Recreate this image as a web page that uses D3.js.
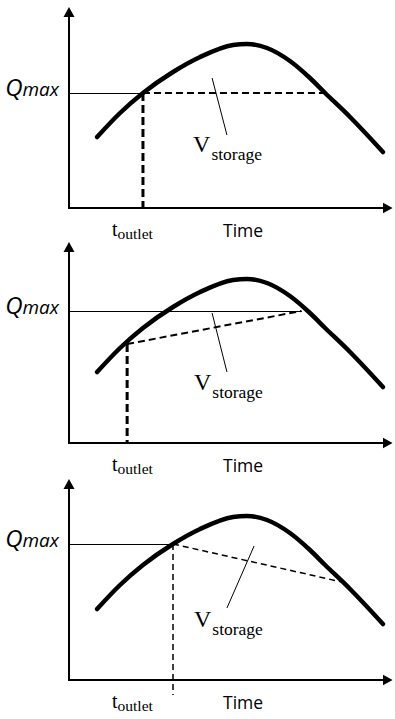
<!DOCTYPE html>
<html>
<head>
<meta charset="utf-8">
<script src="https://cdn.jsdelivr.net/npm/d3@7"></script>
<style>
  body { margin: 0; background: #fff; }
  svg { display: block; }
</style>
</head>
<body>
<svg id="chart" width="395" height="719"></svg>
<script>
// hydrograph, time and discharge in arbitrary units (0..100)
const hydroTime = [8.7, 15.8, 22.9, 32.2, 40.6, 50.8, 55.1, 61.3, 68.4, 74.6, 79.3, 87, 97.2];
const hydroQ    = [35.5, 47.5, 57.5, 68, 75.5, 81.5, 82, 80, 73.5, 65, 57.5, 45.5, 28];

// one entry per panel
const qMax       = [57.5, 66, 68];
const tOutlet    = [22.9, 18, 32.2];
const qAtOutlet  = [57.5, 49.5, 68];
const outletEndT = [79.3, 72, 84.5];   // where the dashed outflow line meets the curve
const outletEndQ = [57.5, 66, 49];
const qMaxLineEnd = [22.9, 72, 32.2];  // solid Qmax line stops here
const dropEndQ   = [0, 0, -7.5];       // lower end of the vertical dashed line
const leaderFrom = [[44.3, 65], [44.3, 65], [57.3, 67]];
const leaderTo   = [[48.9, 36.5], [48.9, 35.5], [48.9, 36]];
const vLabelAt   = [[38.4, 28], [38.7, 26.5], [38.7, 26.5]];
const thickDash  = [true, true, false];

const axisY = [208, 443, 680];

const svg = d3.select("#chart");

svg.append("defs").append("marker")
    .attr("id", "arrow")
    .attr("markerUnits", "userSpaceOnUse")
    .attr("markerWidth", 12)
    .attr("markerHeight", 12)
    .attr("viewBox", "0 -6 12 12")
    .attr("refX", 1)
    .attr("refY", 0)
    .attr("orient", "auto")
    .append("path")
    .attr("d", "M0,-5.5L10,0L0,5.5Z")
    .attr("fill", "#000");

const x = d3.scaleLinear().domain([0, 100]).range([69, 392]);
const serif = "'Liberation Serif', 'Times New Roman', serif";
const sans = "'Open Sans', 'Noto Sans', sans-serif";

axisY.forEach((base, i) => {
    const y = d3.scaleLinear().domain([0, 100]).range([base, base - 200]);
    const g = svg.append("g");

    // axes: no ticks, just the lines with arrowheads
    g.append("g")
        .attr("transform", `translate(${x(0)},0)`)
        .call(d3.axisLeft(y).tickValues([]).tickSizeOuter(0))
        .select(".domain")
        .attr("stroke-width", 2)
        .attr("d", `M0,${y(0) + 1}V${y(96)}`)
        .attr("marker-end", "url(#arrow)");

    g.append("g")
        .attr("transform", `translate(0,${y(0)})`)
        .call(d3.axisBottom(x).tickValues([]).tickSizeOuter(0))
        .select(".domain")
        .attr("stroke-width", 2)
        .attr("d", `M${x(0) - 1},0H${x(97.4)}`)
        .attr("marker-end", "url(#arrow)");

    // Qmax reference line
    g.append("line")
        .attr("x1", x(0)).attr("x2", x(qMaxLineEnd[i]))
        .attr("y1", y(qMax[i]) + 0.5).attr("y2", y(qMax[i]) + 0.5)
        .attr("stroke", "#000").attr("stroke-width", 1);

    // outflow line (dashed)
    g.append("line")
        .attr("x1", x(tOutlet[i])).attr("y1", y(qAtOutlet[i]))
        .attr("x2", x(outletEndT[i])).attr("y2", y(outletEndQ[i]))
        .attr("stroke", "#000")
        .attr("stroke-width", thickDash[i] ? 2 : 1.5)
        .attr("stroke-dasharray", thickDash[i] ? "7,4" : "6,4");

    // vertical drop at t_outlet
    g.append("line")
        .attr("x1", x(tOutlet[i])).attr("x2", x(tOutlet[i]))
        .attr("y1", y(qAtOutlet[i])).attr("y2", y(dropEndQ[i]))
        .attr("stroke", "#000")
        .attr("stroke-width", thickDash[i] ? 3 : 1.5)
        .attr("stroke-dasharray", thickDash[i] ? "8,4" : "6,4");

    // hydrograph
    const line = d3.line()
        .x(d => x(d[0]))
        .y(d => y(d[1]))
        .curve(d3.curveMonotoneX);
    g.append("path")
        .datum(d3.zip(hydroTime, hydroQ))
        .attr("d", line)
        .attr("fill", "none")
        .attr("stroke", "#000")
        .attr("stroke-width", 4.5)
        .attr("stroke-linecap", "round");

    // leader to the storage label
    g.append("line")
        .attr("x1", x(leaderFrom[i][0])).attr("y1", y(leaderFrom[i][1]))
        .attr("x2", x(leaderTo[i][0])).attr("y2", y(leaderTo[i][1]))
        .attr("stroke", "#000").attr("stroke-width", 1);

    const vLabel = g.append("text")
        .attr("x", x(vLabelAt[i][0])).attr("y", y(vLabelAt[i][1]))
        .attr("font-family", serif)
        .attr("font-size", 24);
    vLabel.append("tspan").text("V");
    vLabel.append("tspan").attr("dx", 1).attr("dy", 8).attr("font-size", 17.5).text("storage");

    // Qmax label
    const qLabel = g.append("text")
        .attr("x", 59).attr("y", y(qMax[i]) + 3)
        .attr("text-anchor", "end")
        .attr("font-family", sans)
        .attr("font-style", "italic");
    qLabel.append("tspan").attr("font-size", 24).text("Q");
    qLabel.append("tspan").attr("font-size", 19).text("max");

    // x labels
    const tLabel = g.append("text")
        .attr("x", 112).attr("y", y(0) + 28)
        .attr("font-family", serif)
        .attr("font-size", 20);
    tLabel.append("tspan").text("t");
    tLabel.append("tspan").attr("dy", 3).attr("font-size", 15.5).text("outlet");

    g.append("text")
        .attr("x", 223).attr("y", y(0) + 29)
        .attr("font-family", sans)
        .attr("font-size", 17.5)
        .text("Time");
});
</script>
</body>
</html>
